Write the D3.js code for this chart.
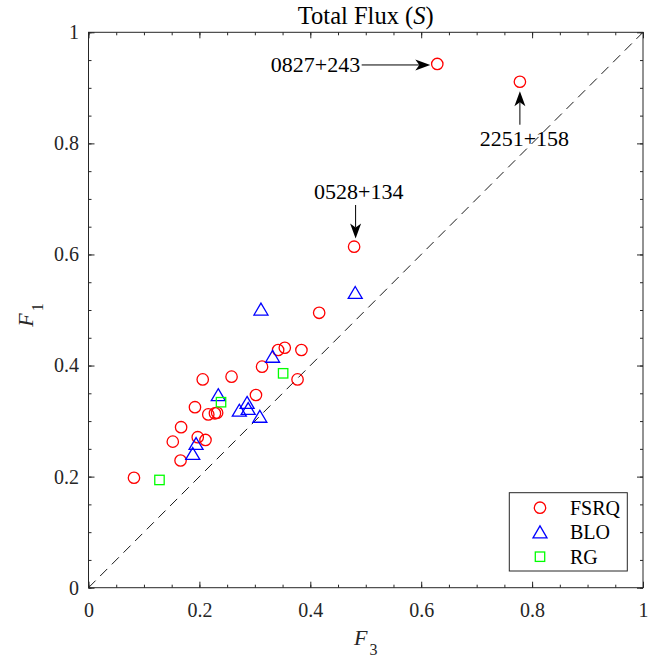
<!DOCTYPE html>
<html>
<head>
<meta charset="utf-8">
<script src="https://cdn.jsdelivr.net/npm/d3@7"></script>
<style>
  html, body { margin: 0; padding: 0; background: #fff; }
  svg { display: block; }
  svg text { font-family: "Liberation Serif", "Times New Roman", Times, serif; }
</style>
</head>
<body>
<svg id="chart" width="662" height="659"></svg>
<script>
// F3 / F1 values per source class
const fsrqF3 = [0.082, 0.166, 0.152, 0.197, 0.211, 0.167, 0.192, 0.216, 0.228, 0.232, 0.206,
                0.258, 0.302, 0.313, 0.342, 0.354, 0.384, 0.377, 0.416, 0.479, 0.629, 0.778];
const fsrqF1 = [0.198, 0.229, 0.263, 0.271, 0.266, 0.289, 0.325, 0.312, 0.314, 0.315, 0.375,
                0.380, 0.347, 0.398, 0.428, 0.432, 0.428, 0.375, 0.495, 0.614, 0.943, 0.911];
const bloF3 = [0.188, 0.194, 0.234, 0.272, 0.286, 0.288, 0.309, 0.332, 0.311, 0.481];
const bloF1 = [0.241, 0.259, 0.347, 0.319, 0.333, 0.322, 0.308, 0.416, 0.501, 0.531];
const rgF3 = [0.128, 0.239, 0.351];
const rgF1 = [0.194, 0.334, 0.386];

const classNames = ["FSRQ", "BLO", "RG"];
const majorTicks = [0, 0.2, 0.4, 0.6, 0.8, 1];
const tickLabels = ["0", "0.2", "0.4", "0.6", "0.8", "1"];
const minorTicks = d3.range(0, 21).map(i => i / 20);

// labelled sources: name and index into the FSRQ arrays
const namedSources = [
  { name: "0827+243", idx: 20, dir: "left" },
  { name: "2251+158", idx: 21, dir: "below" },
  { name: "0528+134", idx: 19, dir: "above" }
];

const svg = d3.select("#chart");
const axisColor = "#262626";
const serif = "'Liberation Serif', 'Times New Roman', Times, serif";

const x = d3.scaleLinear().domain([0, 1]).range([88.5, 643]);
const y = d3.scaleLinear().domain([0, 1]).range([587.7, 32.3]);

const toPoints = (xs, ys) => xs.map((v, i) => [v, ys[i]]);
const series = [
  { name: classNames[0], pts: toPoints(fsrqF3, fsrqF1), color: "#ff0000", shape: "circle" },
  { name: classNames[1], pts: toPoints(bloF3, bloF1), color: "#0000ff", shape: "triangle" },
  { name: classNames[2], pts: toPoints(rgF3, rgF1), color: "#00ff00", shape: "square" }
];

// y = x reference line
svg.append("line")
  .attr("x1", x(0)).attr("y1", y(0))
  .attr("x2", x(1)).attr("y2", y(1))
  .attr("stroke", "#000").attr("stroke-width", 0.9)
  .attr("stroke-dasharray", "10,6.5");

// axes: minor and major ticks pointing inward on all four sides
function styleAxis(g) {
  g.attr("font-family", null);
  g.selectAll(".domain").remove();
  g.selectAll(".tick line").attr("stroke", axisColor).attr("stroke-width", 1);
  g.selectAll(".tick text").attr("fill", axisColor).style("font-size", "20px")
    .style("font-family", serif);
}
const fmt = d => tickLabels[majorTicks.indexOf(d)] ?? "";

svg.append("g").attr("transform", `translate(0,${y(0)})`)
  .call(d3.axisBottom(x).tickValues(minorTicks).tickSize(-3).tickFormat(""))
  .call(styleAxis);
svg.append("g").attr("transform", `translate(0,${y(0)})`)
  .call(d3.axisBottom(x).tickValues(majorTicks).tickSize(-6).tickPadding(15.3).tickFormat(fmt))
  .call(styleAxis);
svg.append("g").attr("transform", `translate(0,${y(1)})`)
  .call(d3.axisTop(x).tickValues(minorTicks).tickSize(-3).tickFormat(""))
  .call(styleAxis);
svg.append("g").attr("transform", `translate(0,${y(1)})`)
  .call(d3.axisTop(x).tickValues(majorTicks).tickSize(-6).tickFormat(""))
  .call(styleAxis);
svg.append("g").attr("transform", `translate(${x(0)},0)`)
  .call(d3.axisLeft(y).tickValues(minorTicks).tickSize(-3).tickFormat(""))
  .call(styleAxis);
svg.append("g").attr("transform", `translate(${x(0)},0)`)
  .call(d3.axisLeft(y).tickValues(majorTicks).tickSize(-6).tickPadding(9.5).tickFormat(fmt))
  .call(styleAxis);
svg.append("g").attr("transform", `translate(${x(1)},0)`)
  .call(d3.axisRight(y).tickValues(minorTicks).tickSize(-3).tickFormat(""))
  .call(styleAxis);
svg.append("g").attr("transform", `translate(${x(1)},0)`)
  .call(d3.axisRight(y).tickValues(majorTicks).tickSize(-6).tickFormat(""))
  .call(styleAxis);

// plot box
svg.append("rect")
  .attr("x", x(0)).attr("y", y(1))
  .attr("width", x(1) - x(0)).attr("height", y(0) - y(1))
  .attr("fill", "none").attr("stroke", axisColor).attr("stroke-width", 1);

// marker drawing
function drawMarker(sel, shape, color) {
  if (shape === "circle") {
    sel.append("circle").attr("r", 5.7);
  } else if (shape === "triangle") {
    sel.append("path").attr("d", "M0,-6.3L7,5.6L-7,5.6Z");
  } else {
    sel.append("rect").attr("x", -4.7).attr("y", -4.7).attr("width", 9.4).attr("height", 9.4);
  }
  sel.selectAll("circle,path,rect")
    .attr("fill", "none").attr("stroke", color).attr("stroke-width", 1.3);
}

series.forEach(s => {
  svg.append("g").selectAll("g")
    .data(s.pts).join("g")
    .attr("transform", d => `translate(${x(d[0])},${y(d[1])})`)
    .each(function () { drawMarker(d3.select(this), s.shape, s.color); });
});

// arrows with notched heads
function arrow(x1, y1, x2, y2) {
  const ang = Math.atan2(y2 - y1, x2 - x1);
  const len = 15, half = 5.5, notch = 4;
  const bx = x2 - len * Math.cos(ang), by = y2 - len * Math.sin(ang);
  const nx = x2 - (len - notch) * Math.cos(ang), ny = y2 - (len - notch) * Math.sin(ang);
  const px = -Math.sin(ang), py = Math.cos(ang);
  svg.append("line")
    .attr("x1", x1).attr("y1", y1).attr("x2", nx).attr("y2", ny)
    .attr("stroke", "#000").attr("stroke-width", 1);
  svg.append("path")
    .attr("d", `M${x2},${y2}L${bx + px * half},${by + py * half}L${nx},${ny}L${bx - px * half},${by - py * half}Z`)
    .attr("fill", "#000");
}

namedSources.forEach(s => {
  const px = x(fsrqF3[s.idx]), py = y(fsrqF1[s.idx]);
  let t;
  if (s.dir === "left") {
    arrow(px - 75.6, py + 1, px - 7, py + 1);
    t = svg.append("text").attr("x", px - 77).attr("y", py + 8.5).attr("text-anchor", "end");
  } else if (s.dir === "below") {
    arrow(px, py + 43, px, py + 9.5);
    t = svg.append("text").attr("x", px + 4.5).attr("y", py + 64).attr("text-anchor", "middle");
  } else {
    arrow(px + 1.5, py - 41.7, px + 1.5, py - 8.2);
    t = svg.append("text").attr("x", px + 4.7).attr("y", py - 47.7).attr("text-anchor", "middle");
  }
  t.style("font-size", "22px").style("font-family", serif).attr("fill", "#000").text(s.name);
});

// title
const title = svg.append("text")
  .attr("x", (x(0) + x(1)) / 2).attr("y", 23.5)
  .attr("text-anchor", "middle").style("font-size", "24.5px").style("font-family", serif)
  .attr("fill", "#000");
title.append("tspan").text("Total Flux (");
title.append("tspan").style("font-style", "italic").text("S");
title.append("tspan").text(")");

// axis labels
const xl = svg.append("text")
  .attr("x", (x(0) + x(1)) / 2).attr("y", 645)
  .attr("text-anchor", "middle").style("font-size", "22px").style("font-family", serif)
  .attr("fill", axisColor);
xl.append("tspan").style("font-style", "italic").text("F");
xl.append("tspan").attr("dy", 10).attr("dx", 2).style("font-size", "16px").text("3");

const yl = svg.append("text")
  .attr("transform", `translate(33,${(y(0) + y(1)) / 2 + 5}) rotate(-90)`)
  .attr("text-anchor", "middle").style("font-size", "22px").style("font-family", serif)
  .attr("fill", axisColor);
yl.append("tspan").style("font-style", "italic").text("F");
yl.append("tspan").attr("dy", 10).attr("dx", 2).style("font-size", "16px").text("1");

// legend
const lg = svg.append("g");
lg.append("rect")
  .attr("x", 509.3).attr("y", 492.7).attr("width", 118).attr("height", 78.3)
  .attr("fill", "#fff").attr("stroke", axisColor).attr("stroke-width", 1);
series.forEach((s, i) => {
  const row = lg.append("g").attr("transform", `translate(540,${507.7 + i * 24.5})`);
  drawMarker(row, s.shape, s.color);
  lg.append("text").attr("x", 570).attr("y", 507.7 + i * 24.5 + 7)
    .style("font-size", "20px").style("font-family", serif).attr("fill", "#000").text(s.name);
});
</script>
</body>
</html>
